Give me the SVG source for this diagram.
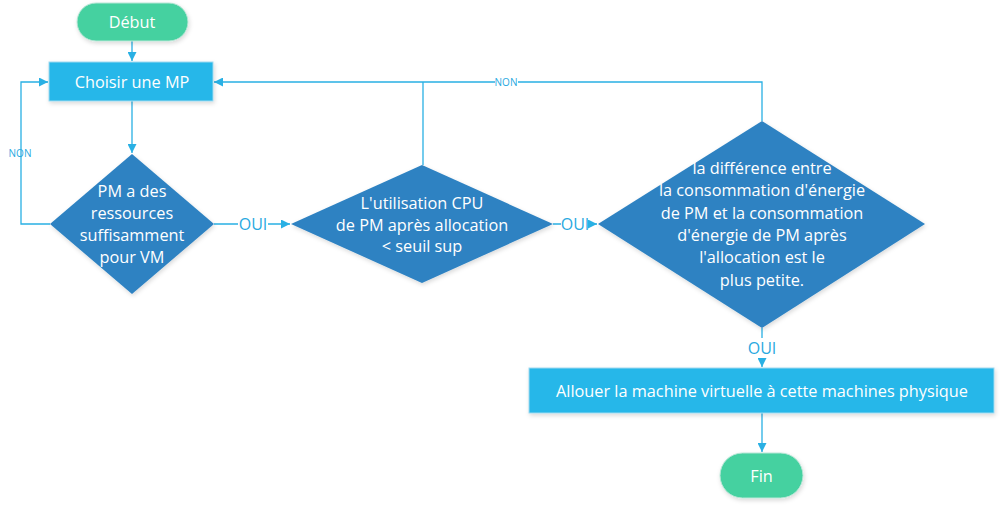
<svg xmlns="http://www.w3.org/2000/svg" width="1000" height="507" viewBox="0 0 1000 507">
<defs>
<style>
.term{fill:#44D1A0;stroke:#b9e6d6;stroke-width:1}
.proc{fill:#25B7E9;stroke:#9fd9ef;stroke-width:1}
.dec{fill:#2E82C2}
.t{font-family:"Open Sans","Noto Sans",sans-serif;fill:#fff;font-size:16.3px;text-anchor:middle;dominant-baseline:central}
.lbl{font-family:"Open Sans","Noto Sans",sans-serif;fill:#29A9DF;text-anchor:middle;dominant-baseline:central}
.c{fill:none;stroke:#29B0E4;stroke-width:1.3}
</style>
<marker id="a" viewBox="0 0 10 10" refX="10" refY="5" markerWidth="9" markerHeight="9" markerUnits="userSpaceOnUse" orient="auto">
<path d="M0,0 L10,5 L0,10 z" fill="#29B0E4"/>
</marker>
<filter id="sh" x="-10%" y="-10%" width="120%" height="130%">
<feDropShadow dx="1" dy="2" stdDeviation="2" flood-color="#000" flood-opacity="0.15"/>
</filter>
</defs>
<rect width="1000" height="507" fill="#fff"/>
<g id="connectors">
<path class="c" d="M132,41 V61" marker-end="url(#a)"/>
<path class="c" d="M132,101 V153" marker-end="url(#a)"/>
<path class="c" d="M50,224 H21 V82 H48" marker-end="url(#a)"/>
<path class="c" d="M214,224 H238 M268,224 H290" marker-end="url(#a)"/>
<path class="c" d="M553,224 H561 M589,224 H597" marker-end="url(#a)"/>
<path class="c" d="M423,165 V82"/>
<path class="c" d="M762,121 V82 H518 M495,82 H214" marker-end="url(#a)"/>
<path class="c" d="M762,328 V338 M762,358 V367" marker-end="url(#a)"/>
<path class="c" d="M762,413 V452" marker-end="url(#a)"/>
<text class="lbl" x="20" y="153" font-size="10">NON</text>
<text class="lbl" x="506" y="82" font-size="10">NON</text>
<text class="lbl" x="253" y="224" font-size="16">OUI</text>
<text class="lbl" x="575" y="224" font-size="16">OUI</text>
<text class="lbl" x="762" y="348" font-size="16">OUI</text>
</g>
<g id="debut">
<rect class="term" x="77" y="3" width="111" height="38" rx="19" filter="url(#sh)"/>
<text class="t" x="132" y="22">Début</text>
</g>
<g id="choisir">
<rect class="proc" x="49" y="62" width="164" height="39" filter="url(#sh)"/>
<text class="t" x="132" y="81.5">Choisir une MP</text>
</g>
<g id="decision1">
<polygon class="dec" points="132,154 214,224 132,294 50,224" filter="url(#sh)"/>
<text class="t" x="132" y="191">PM a des</text>
<text class="t" x="132" y="213">ressources</text>
<text class="t" x="132" y="235">suffisamment</text>
<text class="t" x="132" y="257">pour VM</text>
</g>
<g id="decision2">
<polygon class="dec" points="422,165 553,224 422,283 291,224" filter="url(#sh)"/>
<text class="t" x="422" y="203">L'utilisation CPU</text>
<text class="t" x="422" y="224.5">de PM après allocation</text>
<text class="t" x="422" y="246">&lt; seuil sup</text>
</g>
<g id="decision3">
<polygon class="dec" points="762,121 925,224 762,328 598,224" filter="url(#sh)"/>
<text class="t" x="762" y="168">la différence entre</text>
<text class="t" x="762" y="190">la consommation d'énergie</text>
<text class="t" x="762" y="213">de PM et la consommation</text>
<text class="t" x="762" y="235">d'énergie de PM après</text>
<text class="t" x="762" y="257">l'allocation est le</text>
<text class="t" x="762" y="280">plus petite.</text>
</g>
<g id="allouer">
<rect class="proc" x="529" y="368" width="465" height="45" filter="url(#sh)"/>
<text class="t" x="762" y="390.5">Allouer la machine virtuelle à cette machines physique</text>
</g>
<g id="fin">
<rect class="term" x="720" y="453" width="83" height="45" rx="22.5" filter="url(#sh)"/>
<text class="t" x="761.5" y="475.5">Fin</text>
</g>
</svg>
